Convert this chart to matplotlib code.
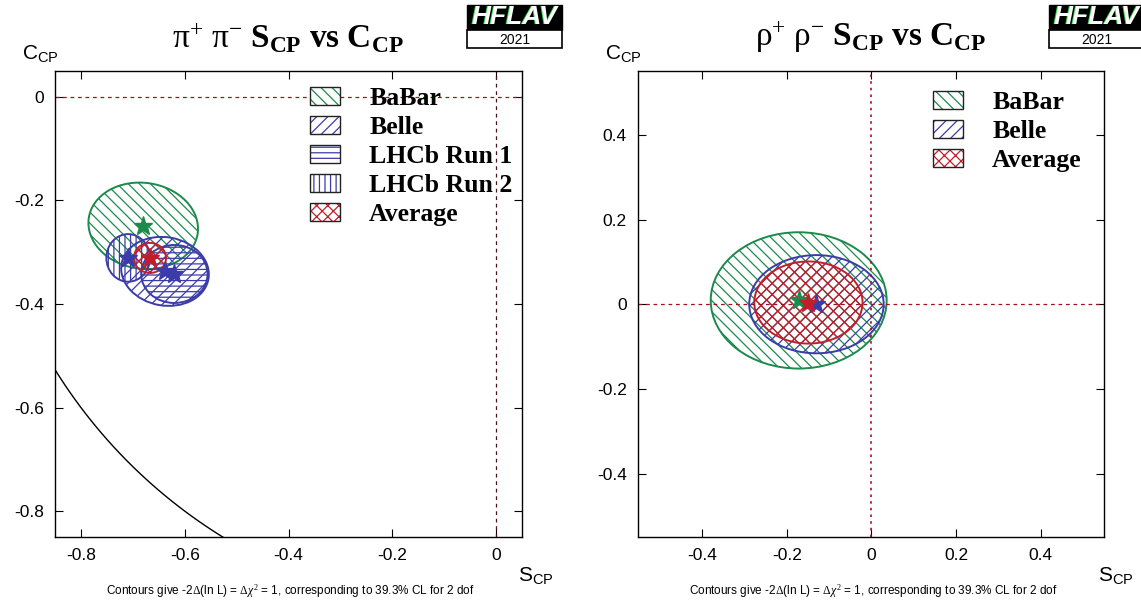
import numpy as np
import matplotlib.pyplot as plt
from matplotlib.patches import Ellipse, Rectangle, Patch
from matplotlib.legend_handler import HandlerTuple

plt.rcParams['mathtext.fontset'] = 'custom'
plt.rcParams['mathtext.rm'] = 'Liberation Serif'
plt.rcParams['mathtext.it'] = 'Liberation Serif:italic'
plt.rcParams['mathtext.bf'] = 'Liberation Serif:bold'
plt.rcParams['hatch.linewidth'] = 0.9
plt.rcParams['axes.unicode_minus'] = False

W, H = 1141, 604

# pi+ pi- : S_CP, C_CP centres, 1-sigma half widths, tilt (deg)
pp_names = ['BaBar', 'Belle', 'LHCb Run 1', 'LHCb Run 2', 'Average']
pp_S = [-0.680, -0.638, -0.620, -0.709, -0.667]
pp_C = [-0.249, -0.337, -0.342, -0.311, -0.311]
pp_sS = [0.106, 0.085, 0.064, 0.042, 0.031]
pp_sC = [0.083, 0.066, 0.056, 0.046, 0.029]
pp_ang = [-8, -10, 0, 0, 0]

# rho+ rho-
rr_names = ['BaBar', 'Belle', 'Average']
rr_S = [-0.172, -0.130, -0.149]
rr_C = [0.009, 0.000, 0.004]
rr_sS = [0.208, 0.159, 0.128]
rr_sC = [0.161, 0.116, 0.097]
rr_ang = [0, 0, 0]

green = '#1b8a4c'
blue = '#3c3ca8'
red = '#c01f2a'
dred = '#a01020'

styles = {'BaBar': (green, '\\\\\\'), 'Belle': (blue, '///'),
          'LHCb Run 1': (blue, '---'), 'LHCb Run 2': (blue, '|||'),
          'Average': (red, 'xxx')}

fig = plt.figure(figsize=(W / 100, H / 100), dpi=100)


def fx(x):
    return x / W


def fy(y):
    return 1 - y / H


def panel(rect, names, S, C, sS, sC, ang, xlim, ylim, ticks, leg_xy, left):
    ax = fig.add_axes(rect)
    ax.set_xlim(*xlim)
    ax.set_ylim(*ylim)
    ax.set_xticks(ticks)
    ax.set_yticks(ticks)
    ax.set_xticklabels(['0' if t == 0 else '%g' % t for t in ticks])
    ax.set_yticklabels(['0' if t == 0 else '%g' % t for t in ticks])
    ax.tick_params(direction='in', top=True, right=True, length=6,
                   labelsize=12.5, pad=8, width=0.8)
    for s in ax.spines.values():
        s.set_linewidth(1.0)
    for lab in ax.get_xticklabels() + ax.get_yticklabels():
        lab.set_family('Liberation Sans')

    if left:
        ax.axhline(0, color=dred, ls=(0, (3, 3)), lw=0.9)
        ax.axvline(0, color='#501018', ls=(0, (3, 3)), lw=0.9)
        # physical boundary S^2 + C^2 = 1
        t = np.linspace(np.pi, 1.5 * np.pi, 400)
        ax.plot(np.cos(t), np.sin(t), color='k', lw=1.0)
    else:
        ax.axhline(0, color=dred, ls=(0, (3, 3)), lw=0.9)
        ax.axvline(0, color=dred, ls=(0, (1.5, 2.5)), lw=1.2)

    handles = []
    for n, s, c, ds, dc, a in zip(names, S, C, sS, sC, ang):
        col, h = styles[n]
        e = Ellipse((s, c), 2 * ds, 2 * dc, angle=a, fill=False,
                    edgecolor=col, hatch=h, lw=1.4)
        ax.add_patch(e)
        handles.append((Patch(facecolor='white', edgecolor=col, hatch=h, lw=0),
                        Patch(fill=False, edgecolor='#222222', lw=1.0)))
    for n, s, c in zip(names, S, C):
        ax.plot(s, c, marker='*', ms=14, color=styles[n][0], mec=styles[n][0])

    ax.legend(handles, names, handler_map={tuple: HandlerTuple(ndivide=1)},
              loc='upper left', bbox_to_anchor=leg_xy, frameon=False,
              borderpad=0, borderaxespad=0, handlelength=1.17, handleheight=0.7,
              handletextpad=1.13, labelspacing=0.23,
              prop={'family': 'Liberation Serif', 'weight': 'bold', 'size': 18.5})
    return ax


panel([fx(55), 1 - 537 / H, 467 / W, 466 / H], pp_names, pp_S, pp_C, pp_sS, pp_sC,
      pp_ang, (-0.85, 0.05), (-0.85, 0.05), [-0.8, -0.6, -0.4, -0.2, 0],
      (0.546, 0.965), True)
panel([fx(638), 1 - 537 / H, 466 / W, 466 / H], rr_names, rr_S, rr_C, rr_sS, rr_sC,
      rr_ang, (-0.552, 0.55), (-0.55, 0.551), [-0.4, -0.2, 0, 0.2, 0.4],
      (0.633, 0.957), False)

# titles
fig.text(fx(288), fy(37),
         r'$\mathrm{π^{+}\ π^{-}}\ \mathbf{S_{CP}\ vs\ C_{CP}}$',
         ha='center', va='center', fontsize=24)
fig.text(fx(871), fy(37),
         r'$\mathrm{ρ^{+}\ ρ^{-}}\ \mathbf{S_{CP}\ vs\ C_{CP}}$',
         ha='center', va='center', fontsize=24)

# axis labels
for x0 in (40, 623):
    fig.text(fx(x0), fy(54), r'C$_{\mathregular{CP}}$', ha='center', va='center',
             fontsize=15, family='Liberation Sans')
for x0 in (536, 1116):
    fig.text(fx(x0), fy(576), r'S$_{\mathregular{CP}}$', ha='center', va='center',
             fontsize=15, family='Liberation Sans')

foot = r'Contours give -2$\Delta$(ln L) = $\Delta\chi^2$ = 1, corresponding to 39.3% CL for 2 dof'
for x0 in (290, 873):
    fig.text(fx(x0), fy(591), foot, ha='center', va='center', fontsize=8.5,
             family='Liberation Sans')

# HFLAV logos
for x0 in (467, 1049):
    w = 95
    fig.add_artist(Rectangle((fx(x0), fy(30)), w / W, 25 / H, transform=fig.transFigure,
                             facecolor='black', edgecolor='black'))
    fig.add_artist(Rectangle((fx(x0), fy(48)), w / W, 18 / H, transform=fig.transFigure,
                             facecolor='white', edgecolor='black', lw=1.2))
    fig.text(fx(x0 + w / 2 - 1.5), fy(17.5), 'HFLAV', ha='center', va='center',
             fontsize=19, weight='bold', style='italic', color='#30d040',
             family='Liberation Sans')
    fig.text(fx(x0 + w / 2), fy(17), 'HFLAV', ha='center', va='center',
             fontsize=19, weight='bold', style='italic', color='white',
             family='Liberation Sans')
    fig.text(fx(x0 + w / 2), fy(40), '2021', ha='center', va='center',
             fontsize=10, color='black', family='Liberation Sans')

fig.savefig('out.png', dpi=100)
